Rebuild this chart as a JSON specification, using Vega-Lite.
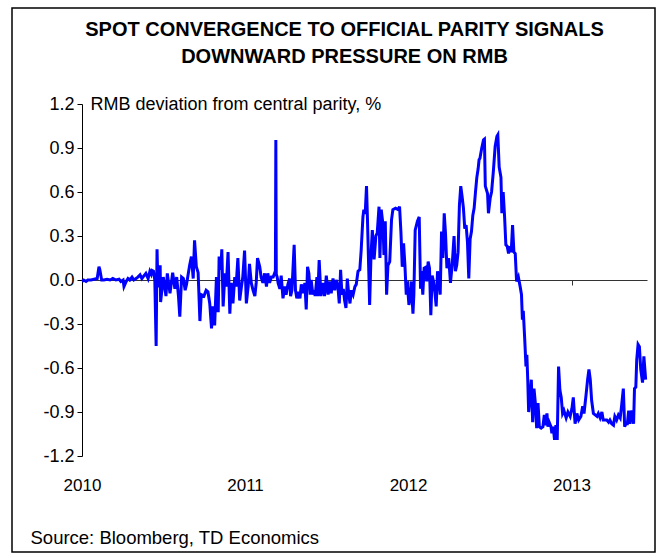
{
  "$schema": "https://vega.github.io/schema/vega-lite/v6.json",
  "width": 643,
  "height": 544,
  "autosize": "none",
  "padding": {"left": 12, "top": 8, "right": 12, "bottom": 6},
  "background": "white",
  "title": {
    "text": ["SPOT CONVERGENCE TO OFFICIAL PARITY SIGNALS", "DOWNWARD PRESSURE ON RMB"],
    "font": "Liberation Sans",
    "fontSize": 20,
    "fontWeight": "bold",
    "color": "black",
    "anchor": "middle",
    "baseline": "top",
    "lineHeight": 27,
    "offset": -15,
    "dx": 11,
    "dy": 44
  },
  "data": {
    "values": [
      {"date": "2010-01-01", "deviation": -0.01},
      {"date": "2010-01-05", "deviation": 0.0},
      {"date": "2010-01-10", "deviation": -0.01},
      {"date": "2010-01-14", "deviation": 0.0},
      {"date": "2010-01-21", "deviation": 0.0},
      {"date": "2010-01-28", "deviation": 0.005},
      {"date": "2010-02-04", "deviation": 0.01},
      {"date": "2010-02-08", "deviation": 0.09},
      {"date": "2010-02-10", "deviation": 0.07},
      {"date": "2010-02-14", "deviation": 0.0},
      {"date": "2010-02-19", "deviation": 0.0},
      {"date": "2010-02-26", "deviation": 0.005},
      {"date": "2010-03-05", "deviation": 0.0},
      {"date": "2010-03-11", "deviation": 0.01},
      {"date": "2010-03-18", "deviation": 0.0},
      {"date": "2010-03-25", "deviation": 0.005},
      {"date": "2010-03-29", "deviation": -0.01},
      {"date": "2010-04-03", "deviation": 0.0},
      {"date": "2010-04-05", "deviation": -0.045},
      {"date": "2010-04-10", "deviation": -0.01},
      {"date": "2010-04-14", "deviation": 0.01},
      {"date": "2010-04-18", "deviation": 0.0},
      {"date": "2010-04-23", "deviation": 0.02},
      {"date": "2010-04-27", "deviation": 0.0},
      {"date": "2010-05-02", "deviation": 0.01},
      {"date": "2010-05-06", "deviation": 0.02},
      {"date": "2010-05-11", "deviation": 0.035},
      {"date": "2010-05-15", "deviation": 0.01},
      {"date": "2010-05-20", "deviation": 0.03},
      {"date": "2010-05-24", "deviation": 0.045},
      {"date": "2010-05-29", "deviation": 0.01},
      {"date": "2010-06-02", "deviation": 0.06},
      {"date": "2010-06-05", "deviation": 0.04},
      {"date": "2010-06-07", "deviation": 0.065},
      {"date": "2010-06-10", "deviation": 0.06},
      {"date": "2010-06-13", "deviation": 0.0},
      {"date": "2010-06-16", "deviation": -0.45},
      {"date": "2010-06-18", "deviation": 0.21},
      {"date": "2010-06-20", "deviation": -0.05},
      {"date": "2010-06-25", "deviation": 0.10},
      {"date": "2010-06-26", "deviation": -0.15},
      {"date": "2010-07-02", "deviation": 0.02},
      {"date": "2010-07-08", "deviation": -0.11},
      {"date": "2010-07-11", "deviation": 0.045},
      {"date": "2010-07-17", "deviation": -0.09},
      {"date": "2010-07-23", "deviation": 0.05},
      {"date": "2010-07-28", "deviation": -0.06},
      {"date": "2010-08-01", "deviation": 0.02},
      {"date": "2010-08-05", "deviation": -0.11},
      {"date": "2010-08-08", "deviation": -0.25},
      {"date": "2010-08-12", "deviation": 0.02},
      {"date": "2010-08-16", "deviation": 0.01},
      {"date": "2010-08-20", "deviation": -0.07},
      {"date": "2010-08-23", "deviation": -0.03},
      {"date": "2010-08-30", "deviation": 0.10},
      {"date": "2010-09-03", "deviation": 0.16},
      {"date": "2010-09-07", "deviation": 0.01},
      {"date": "2010-09-10", "deviation": 0.27},
      {"date": "2010-09-14", "deviation": 0.09},
      {"date": "2010-09-18", "deviation": 0.05},
      {"date": "2010-09-22", "deviation": -0.28},
      {"date": "2010-09-25", "deviation": -0.10},
      {"date": "2010-10-01", "deviation": -0.11},
      {"date": "2010-10-06", "deviation": -0.07},
      {"date": "2010-10-10", "deviation": -0.08},
      {"date": "2010-10-14", "deviation": -0.16},
      {"date": "2010-10-18", "deviation": -0.33},
      {"date": "2010-10-21", "deviation": -0.18},
      {"date": "2010-10-25", "deviation": -0.31},
      {"date": "2010-10-29", "deviation": 0.02},
      {"date": "2010-11-02", "deviation": -0.22},
      {"date": "2010-11-04", "deviation": 0.16},
      {"date": "2010-11-08", "deviation": 0.07},
      {"date": "2010-11-10", "deviation": 0.21},
      {"date": "2010-11-13", "deviation": -0.18},
      {"date": "2010-11-17", "deviation": 0.045},
      {"date": "2010-11-20", "deviation": -0.045},
      {"date": "2010-11-24", "deviation": 0.19},
      {"date": "2010-11-28", "deviation": -0.23},
      {"date": "2010-12-01", "deviation": -0.02},
      {"date": "2010-12-05", "deviation": -0.16},
      {"date": "2010-12-09", "deviation": 0.02},
      {"date": "2010-12-12", "deviation": -0.045},
      {"date": "2010-12-16", "deviation": 0.15},
      {"date": "2010-12-20", "deviation": -0.14},
      {"date": "2010-12-24", "deviation": -0.045},
      {"date": "2010-12-27", "deviation": 0.02},
      {"date": "2010-12-31", "deviation": 0.20},
      {"date": "2011-01-04", "deviation": -0.16},
      {"date": "2011-01-08", "deviation": -0.045},
      {"date": "2011-01-11", "deviation": 0.11},
      {"date": "2011-01-15", "deviation": -0.02},
      {"date": "2011-01-19", "deviation": -0.07},
      {"date": "2011-01-23", "deviation": -0.11},
      {"date": "2011-01-26", "deviation": -0.02},
      {"date": "2011-01-29", "deviation": 0.15},
      {"date": "2011-02-03", "deviation": 0.09},
      {"date": "2011-02-06", "deviation": 0.02},
      {"date": "2011-02-10", "deviation": -0.02},
      {"date": "2011-02-14", "deviation": 0.045},
      {"date": "2011-02-18", "deviation": -0.045},
      {"date": "2011-02-21", "deviation": 0.045},
      {"date": "2011-02-25", "deviation": -0.02},
      {"date": "2011-03-01", "deviation": 0.02},
      {"date": "2011-03-05", "deviation": 0.02},
      {"date": "2011-03-08", "deviation": 0.045},
      {"date": "2011-03-10", "deviation": 0.03},
      {"date": "2011-03-11", "deviation": 0.955},
      {"date": "2011-03-12", "deviation": 0.04},
      {"date": "2011-03-14", "deviation": 0.02},
      {"date": "2011-03-16", "deviation": -0.02},
      {"date": "2011-03-20", "deviation": -0.06},
      {"date": "2011-03-23", "deviation": 0.03},
      {"date": "2011-03-27", "deviation": -0.125},
      {"date": "2011-03-31", "deviation": -0.045},
      {"date": "2011-04-03", "deviation": -0.10},
      {"date": "2011-04-07", "deviation": -0.03},
      {"date": "2011-04-11", "deviation": 0.01},
      {"date": "2011-04-13", "deviation": -0.11},
      {"date": "2011-04-16", "deviation": -0.07},
      {"date": "2011-04-21", "deviation": 0.24},
      {"date": "2011-04-24", "deviation": -0.07},
      {"date": "2011-04-27", "deviation": -0.125},
      {"date": "2011-05-01", "deviation": -0.08},
      {"date": "2011-05-04", "deviation": -0.125},
      {"date": "2011-05-07", "deviation": -0.03},
      {"date": "2011-05-11", "deviation": -0.09},
      {"date": "2011-05-15", "deviation": -0.02},
      {"date": "2011-05-18", "deviation": -0.20},
      {"date": "2011-05-21", "deviation": 0.09},
      {"date": "2011-05-24", "deviation": 0.045},
      {"date": "2011-05-27", "deviation": -0.10},
      {"date": "2011-05-29", "deviation": 0.0},
      {"date": "2011-06-02", "deviation": -0.10},
      {"date": "2011-06-05", "deviation": -0.07},
      {"date": "2011-06-07", "deviation": -0.11},
      {"date": "2011-06-11", "deviation": 0.02},
      {"date": "2011-06-13", "deviation": -0.11},
      {"date": "2011-06-16", "deviation": 0.136},
      {"date": "2011-06-20", "deviation": -0.11},
      {"date": "2011-06-22", "deviation": -0.07},
      {"date": "2011-06-25", "deviation": -0.02},
      {"date": "2011-06-28", "deviation": -0.11},
      {"date": "2011-07-02", "deviation": 0.03},
      {"date": "2011-07-06", "deviation": -0.10},
      {"date": "2011-07-10", "deviation": -0.01},
      {"date": "2011-07-13", "deviation": -0.09},
      {"date": "2011-07-17", "deviation": 0.01},
      {"date": "2011-07-21", "deviation": -0.07},
      {"date": "2011-07-24", "deviation": 0.0},
      {"date": "2011-07-28", "deviation": -0.045},
      {"date": "2011-07-31", "deviation": -0.16},
      {"date": "2011-08-03", "deviation": 0.07},
      {"date": "2011-08-06", "deviation": -0.10},
      {"date": "2011-08-09", "deviation": -0.06},
      {"date": "2011-08-12", "deviation": -0.14},
      {"date": "2011-08-15", "deviation": -0.19},
      {"date": "2011-08-18", "deviation": 0.01},
      {"date": "2011-08-21", "deviation": -0.09},
      {"date": "2011-08-24", "deviation": -0.16},
      {"date": "2011-08-27", "deviation": -0.07},
      {"date": "2011-08-31", "deviation": -0.10},
      {"date": "2011-09-04", "deviation": -0.045},
      {"date": "2011-09-07", "deviation": -0.03},
      {"date": "2011-09-11", "deviation": 0.06},
      {"date": "2011-09-15", "deviation": 0.07},
      {"date": "2011-09-18", "deviation": 0.20},
      {"date": "2011-09-22", "deviation": 0.43},
      {"date": "2011-09-24", "deviation": 0.48},
      {"date": "2011-09-27", "deviation": 0.45},
      {"date": "2011-09-30", "deviation": 0.64},
      {"date": "2011-10-02", "deviation": 0.43},
      {"date": "2011-10-05", "deviation": 0.07},
      {"date": "2011-10-07", "deviation": -0.17},
      {"date": "2011-10-10", "deviation": 0.16},
      {"date": "2011-10-13", "deviation": 0.34},
      {"date": "2011-10-17", "deviation": 0.14},
      {"date": "2011-10-21", "deviation": 0.30},
      {"date": "2011-10-24", "deviation": 0.32},
      {"date": "2011-10-28", "deviation": 0.50},
      {"date": "2011-10-30", "deviation": 0.15},
      {"date": "2011-11-02", "deviation": 0.48},
      {"date": "2011-11-06", "deviation": 0.375},
      {"date": "2011-11-08", "deviation": 0.17},
      {"date": "2011-11-11", "deviation": 0.40},
      {"date": "2011-11-14", "deviation": -0.10},
      {"date": "2011-11-17", "deviation": 0.10},
      {"date": "2011-11-21", "deviation": 0.125},
      {"date": "2011-11-25", "deviation": 0.41},
      {"date": "2011-11-28", "deviation": 0.48},
      {"date": "2011-12-04", "deviation": 0.49},
      {"date": "2011-12-10", "deviation": 0.48},
      {"date": "2011-12-13", "deviation": 0.50},
      {"date": "2011-12-16", "deviation": 0.33},
      {"date": "2011-12-19", "deviation": 0.09},
      {"date": "2011-12-22", "deviation": 0.25},
      {"date": "2011-12-25", "deviation": 0.10},
      {"date": "2011-12-28", "deviation": -0.10},
      {"date": "2011-12-30", "deviation": -0.01},
      {"date": "2012-01-03", "deviation": -0.17},
      {"date": "2012-01-06", "deviation": -0.10},
      {"date": "2012-01-08", "deviation": -0.01},
      {"date": "2012-01-12", "deviation": -0.23},
      {"date": "2012-01-14", "deviation": -0.10},
      {"date": "2012-01-17", "deviation": 0.34},
      {"date": "2012-01-22", "deviation": 0.40},
      {"date": "2012-01-26", "deviation": 0.43},
      {"date": "2012-01-29", "deviation": -0.06},
      {"date": "2012-01-31", "deviation": 0.06},
      {"date": "2012-02-03", "deviation": -0.10},
      {"date": "2012-02-06", "deviation": 0.08},
      {"date": "2012-02-09", "deviation": 0.085},
      {"date": "2012-02-12", "deviation": -0.01},
      {"date": "2012-02-15", "deviation": 0.125},
      {"date": "2012-02-18", "deviation": 0.08},
      {"date": "2012-02-21", "deviation": -0.24},
      {"date": "2012-02-24", "deviation": 0.03},
      {"date": "2012-02-27", "deviation": -0.01},
      {"date": "2012-03-01", "deviation": -0.08},
      {"date": "2012-03-04", "deviation": -0.18},
      {"date": "2012-03-07", "deviation": 0.06},
      {"date": "2012-03-10", "deviation": 0.01},
      {"date": "2012-03-13", "deviation": -0.10},
      {"date": "2012-03-16", "deviation": 0.33},
      {"date": "2012-03-19", "deviation": 0.15},
      {"date": "2012-03-22", "deviation": 0.455},
      {"date": "2012-03-25", "deviation": 0.31},
      {"date": "2012-03-28", "deviation": 0.08},
      {"date": "2012-04-01", "deviation": 0.15},
      {"date": "2012-04-05", "deviation": -0.02},
      {"date": "2012-04-09", "deviation": 0.11},
      {"date": "2012-04-13", "deviation": 0.30},
      {"date": "2012-04-16", "deviation": 0.06},
      {"date": "2012-04-19", "deviation": 0.10},
      {"date": "2012-04-22", "deviation": 0.19},
      {"date": "2012-04-25", "deviation": 0.51},
      {"date": "2012-04-28", "deviation": 0.64},
      {"date": "2012-05-01", "deviation": 0.57},
      {"date": "2012-05-04", "deviation": 0.49},
      {"date": "2012-05-07", "deviation": 0.35},
      {"date": "2012-05-10", "deviation": 0.375},
      {"date": "2012-05-13", "deviation": 0.26},
      {"date": "2012-05-16", "deviation": 0.01},
      {"date": "2012-05-19", "deviation": 0.28},
      {"date": "2012-05-22", "deviation": 0.33},
      {"date": "2012-05-25", "deviation": 0.44},
      {"date": "2012-05-28", "deviation": 0.49},
      {"date": "2012-05-31", "deviation": 0.60},
      {"date": "2012-06-03", "deviation": 0.70},
      {"date": "2012-06-06", "deviation": 0.76},
      {"date": "2012-06-08", "deviation": 0.82},
      {"date": "2012-06-10", "deviation": 0.83},
      {"date": "2012-06-14", "deviation": 0.90},
      {"date": "2012-06-18", "deviation": 0.955},
      {"date": "2012-06-20", "deviation": 0.96},
      {"date": "2012-06-22", "deviation": 0.64},
      {"date": "2012-06-27", "deviation": 0.59},
      {"date": "2012-06-29", "deviation": 0.455},
      {"date": "2012-07-03", "deviation": 0.56},
      {"date": "2012-07-06", "deviation": 0.60},
      {"date": "2012-07-10", "deviation": 0.74},
      {"date": "2012-07-14", "deviation": 0.91},
      {"date": "2012-07-18", "deviation": 0.98},
      {"date": "2012-07-20", "deviation": 0.99},
      {"date": "2012-07-23", "deviation": 0.77},
      {"date": "2012-07-27", "deviation": 0.70},
      {"date": "2012-07-29", "deviation": 0.455},
      {"date": "2012-08-01", "deviation": 0.60},
      {"date": "2012-08-04", "deviation": 0.44},
      {"date": "2012-08-07", "deviation": 0.24},
      {"date": "2012-08-10", "deviation": 0.23},
      {"date": "2012-08-13", "deviation": 0.18},
      {"date": "2012-08-16", "deviation": 0.23},
      {"date": "2012-08-19", "deviation": 0.19},
      {"date": "2012-08-22", "deviation": 0.375},
      {"date": "2012-08-25", "deviation": 0.19},
      {"date": "2012-08-28", "deviation": 0.18},
      {"date": "2012-08-31", "deviation": -0.01},
      {"date": "2012-09-04", "deviation": 0.02},
      {"date": "2012-09-08", "deviation": -0.045},
      {"date": "2012-09-11", "deviation": -0.10},
      {"date": "2012-09-13", "deviation": -0.27},
      {"date": "2012-09-15", "deviation": -0.21},
      {"date": "2012-09-18", "deviation": -0.39},
      {"date": "2012-09-20", "deviation": -0.52},
      {"date": "2012-09-21", "deviation": -0.59},
      {"date": "2012-09-23", "deviation": -0.51},
      {"date": "2012-09-25", "deviation": -0.68},
      {"date": "2012-09-27", "deviation": -0.90},
      {"date": "2012-09-30", "deviation": -0.80},
      {"date": "2012-10-03", "deviation": -0.68},
      {"date": "2012-10-06", "deviation": -0.97},
      {"date": "2012-10-09", "deviation": -0.74},
      {"date": "2012-10-12", "deviation": -0.84},
      {"date": "2012-10-15", "deviation": -1.01},
      {"date": "2012-10-18", "deviation": -0.84},
      {"date": "2012-10-21", "deviation": -1.0},
      {"date": "2012-10-25", "deviation": -1.01},
      {"date": "2012-10-29", "deviation": -1.0},
      {"date": "2012-11-01", "deviation": -0.92},
      {"date": "2012-11-03", "deviation": -0.99},
      {"date": "2012-11-07", "deviation": -0.91},
      {"date": "2012-11-09", "deviation": -1.0},
      {"date": "2012-11-12", "deviation": -0.97},
      {"date": "2012-11-16", "deviation": -1.0},
      {"date": "2012-11-18", "deviation": -1.045},
      {"date": "2012-11-21", "deviation": -1.0},
      {"date": "2012-11-24", "deviation": -1.09},
      {"date": "2012-11-27", "deviation": -0.99},
      {"date": "2012-11-30", "deviation": -1.09},
      {"date": "2012-12-03", "deviation": -0.59},
      {"date": "2012-12-06", "deviation": -0.75},
      {"date": "2012-12-09", "deviation": -0.80},
      {"date": "2012-12-12", "deviation": -0.91},
      {"date": "2012-12-15", "deviation": -0.89},
      {"date": "2012-12-20", "deviation": -0.94},
      {"date": "2012-12-24", "deviation": -0.90},
      {"date": "2012-12-29", "deviation": -0.93},
      {"date": "2013-01-02", "deviation": -0.875},
      {"date": "2013-01-05", "deviation": -0.80},
      {"date": "2013-01-09", "deviation": -0.98},
      {"date": "2013-01-13", "deviation": -0.91},
      {"date": "2013-01-17", "deviation": -0.955},
      {"date": "2013-01-22", "deviation": -0.93},
      {"date": "2013-01-26", "deviation": -0.86},
      {"date": "2013-01-29", "deviation": -0.91},
      {"date": "2013-02-03", "deviation": -0.77},
      {"date": "2013-02-06", "deviation": -0.68},
      {"date": "2013-02-09", "deviation": -0.61},
      {"date": "2013-02-12", "deviation": -0.68},
      {"date": "2013-02-15", "deviation": -0.82},
      {"date": "2013-02-19", "deviation": -0.91},
      {"date": "2013-02-23", "deviation": -0.92},
      {"date": "2013-02-27", "deviation": -0.93},
      {"date": "2013-03-02", "deviation": -0.91},
      {"date": "2013-03-06", "deviation": -0.94},
      {"date": "2013-03-10", "deviation": -0.90},
      {"date": "2013-03-13", "deviation": -0.955},
      {"date": "2013-03-17", "deviation": -0.955},
      {"date": "2013-03-21", "deviation": -0.955},
      {"date": "2013-03-25", "deviation": -0.97},
      {"date": "2013-03-28", "deviation": -0.955},
      {"date": "2013-04-01", "deviation": -0.98},
      {"date": "2013-04-05", "deviation": -0.99},
      {"date": "2013-04-08", "deviation": -0.93},
      {"date": "2013-04-12", "deviation": -0.955},
      {"date": "2013-04-16", "deviation": -0.92},
      {"date": "2013-04-20", "deviation": -0.94},
      {"date": "2013-04-23", "deviation": -0.86},
      {"date": "2013-04-27", "deviation": -0.74},
      {"date": "2013-04-30", "deviation": -1.0},
      {"date": "2013-05-03", "deviation": -0.98},
      {"date": "2013-05-06", "deviation": -0.98},
      {"date": "2013-05-09", "deviation": -0.89},
      {"date": "2013-05-12", "deviation": -0.98},
      {"date": "2013-05-16", "deviation": -0.89},
      {"date": "2013-05-20", "deviation": -0.98},
      {"date": "2013-05-22", "deviation": -0.74},
      {"date": "2013-05-25", "deviation": -0.73},
      {"date": "2013-05-27", "deviation": -0.545},
      {"date": "2013-05-30", "deviation": -0.44},
      {"date": "2013-06-02", "deviation": -0.455},
      {"date": "2013-06-05", "deviation": -0.61},
      {"date": "2013-06-09", "deviation": -0.70},
      {"date": "2013-06-12", "deviation": -0.52},
      {"date": "2013-06-16", "deviation": -0.68}
    ]
  },
  "mark": {"type": "line", "color": "#0000FF", "strokeWidth": 3, "interpolate": "linear"},
  "encoding": {
    "x": {
      "field": "date",
      "type": "temporal",
      "scale": {
        "type": "utc",
        "domain": [
          {"year": 2010, "month": 1, "date": 1, "utc": true},
          {"year": 2013, "month": 6, "date": 19, "utc": true}
        ],
        "range": [70, 635]
      },
      "axis": {
        "title": "Source: Bloomberg, TD Economics",
        "titleFont": "Liberation Sans",
        "titleFontSize": 18.5,
        "titleFontWeight": "normal",
        "titleColor": "black",
        "titleAlign": "left",
        "titleAnchor": "start",
        "titleBaseline": "middle",
        "titleX": 18,
        "titleY": 257,
        "offset": -272,
        "values": [
          {"year": 2010, "month": 1, "date": 1, "utc": true},
          {"year": 2011, "month": 1, "date": 1, "utc": true},
          {"year": 2012, "month": 1, "date": 1, "utc": true},
          {"year": 2013, "month": 1, "date": 1, "utc": true}
        ],
        "format": "%Y",
        "formatType": "utc",
        "grid": false,
        "domainColor": "#333333",
        "domainWidth": 1.2,
        "tickColor": "#333333",
        "tickSize": 5,
        "tickWidth": 1,
        "labelFont": "Liberation Sans",
        "labelFontSize": 17,
        "labelColor": "black",
        "labelPadding": 192,
        "labelFlush": false
      }
    },
    "y": {
      "field": "deviation",
      "type": "quantitative",
      "scale": {"domain": [-1.2, 1.2], "range": [448, 96], "nice": false, "zero": false},
      "axis": {
        "title": "RMB deviation from central parity, %",
        "titleFont": "Liberation Sans",
        "titleFontSize": 18,
        "titleFontWeight": "normal",
        "titleColor": "black",
        "titleAngle": 0,
        "titleAlign": "left",
        "titleBaseline": "middle",
        "titleX": 8,
        "titleY": 96,
        "offset": -70,
        "values": [-1.2, -0.9, -0.6, -0.3, 0, 0.3, 0.6, 0.9, 1.2],
        "labelExpr": "replace(format(datum.value, '.1f'), '\u2212', '-')",
        "grid": false,
        "domainColor": "black",
        "tickColor": "black",
        "tickSize": 5,
        "labelFont": "Liberation Sans",
        "labelFontSize": 18,
        "labelColor": "black",
        "labelPadding": 3
      }
    }
  },
  "config": {
    "view": {"stroke": "black", "strokeWidth": 1.5},
    "font": "Liberation Sans"
  }
}
